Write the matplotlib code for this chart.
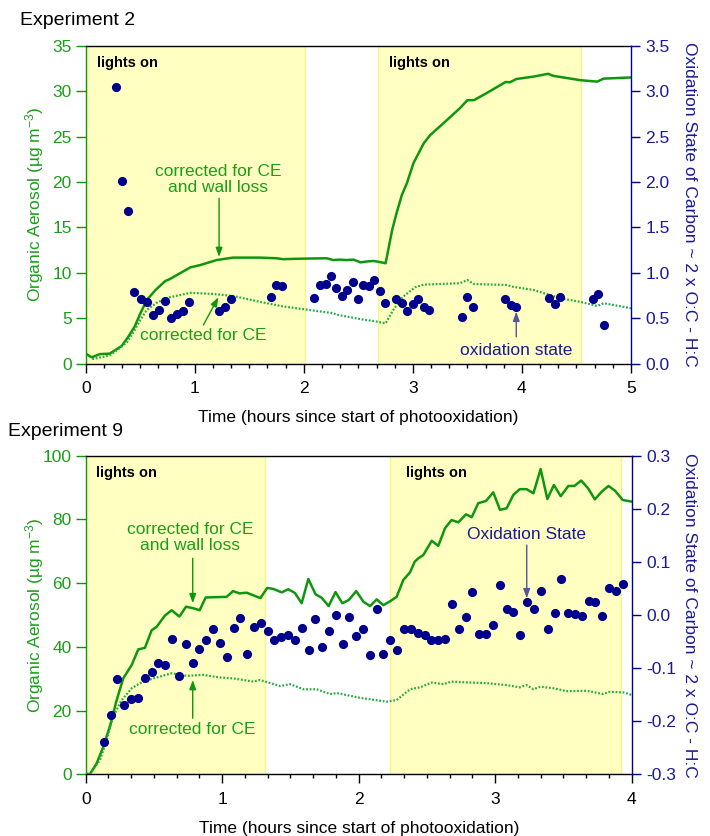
import matplotlib as mpl
import matplotlib.pyplot as plt
from matplotlib.ticker import MultipleLocator, FormatStrFormatter

mpl.rcParams.update({
    "font.family": "Liberation Sans",
    "font.size": 12.5,
    "mathtext.fontset": "custom",
    "mathtext.rm": "Liberation Sans",
    "mathtext.it": "Liberation Sans:italic",
    "mathtext.bf": "Liberation Sans:bold",
    "axes.unicode_minus": False,
    "axes.linewidth": 1.0,
})

GREEN = "#0f960f"
GREEN_TXT = "#1a9e1a"
GREEN_DOT = "#22aa44"
NAVY = "#00008c"
NAVY_TXT = "#1a1a96"
NAVY_ARROW = "#55559a"
LIGHT_FILL = "#ffffc2"
LIGHT_EDGE = "#f4f48e"

# ---- Experiment 2 ----
exp2_lights = [(0.0, 2.01), (2.68, 4.54)]

exp2_t_wall = [0.0, 0.055, 0.13, 0.22, 0.33, 0.39, 0.45, 0.50, 0.56, 0.64, 0.73, 0.77,
               0.865, 0.96, 1.05, 1.20, 1.35, 1.60, 1.75, 1.81, 1.96, 2.21, 2.27, 2.33,
               2.39, 2.455, 2.52, 2.58, 2.64, 2.69, 2.75, 2.81, 2.85, 2.90, 2.945, 3.005,
               3.10, 3.16, 3.28, 3.43, 3.50, 3.56, 3.68, 3.85, 3.89, 3.95, 4.11, 4.24,
               4.29, 4.535, 4.69, 4.75, 5.0]
exp2_oa_wall = [1.1, 0.7, 1.05, 1.1, 1.95, 2.95, 4.1, 5.5, 7.0, 8.1, 9.1, 9.3,
                9.95, 10.6, 10.85, 11.4, 11.67, 11.67, 11.6, 11.5, 11.55, 11.6, 11.4, 11.45,
                11.4, 11.45, 11.15, 11.25, 11.3, 11.2, 11.05, 14.7, 16.55, 18.6, 19.85, 22.06,
                24.26, 25.17, 26.46, 28.1, 29.0, 29.0, 29.8, 31.0, 30.97, 31.33, 31.6, 31.9,
                31.67, 31.2, 31.04, 31.37, 31.5]

exp2_t_ce = [0.06, 0.22, 0.30, 0.38, 0.44, 0.50, 0.56, 0.65, 0.77, 0.96, 1.17, 1.35,
             1.60, 1.81, 2.27, 2.30, 2.52, 2.685, 2.75, 2.82, 2.91, 3.02, 3.10, 3.43,
             3.50, 3.56, 3.86, 3.91, 4.11, 4.35, 4.535, 4.69, 4.75, 5.0]
exp2_oa_ce = [0.5, 0.9, 1.6, 2.4, 3.5, 4.8, 5.9, 6.7, 7.3, 7.8, 7.67, 7.45,
              6.8, 6.3, 5.55, 5.4, 4.9, 4.6, 4.44, 5.9, 7.37, 8.4, 8.7, 8.85,
              9.2, 8.77, 8.66, 8.48, 8.1, 7.2, 6.8, 6.35, 6.65, 6.1]

exp2_t_osc = [0.278, 0.336, 0.39, 0.446, 0.504, 0.56, 0.615, 0.672, 0.725, 0.78, 0.835,
              0.89, 0.945, 1.223, 1.278, 1.333, 1.697, 1.746, 1.80, 2.097, 2.15, 2.20,
              2.25, 2.296, 2.35, 2.397, 2.448, 2.50, 2.547, 2.60, 2.645, 2.70, 2.747,
              2.847, 2.90, 2.95, 3.0, 3.048, 3.10, 3.15, 3.45, 3.50, 3.55, 3.847, 3.90,
              3.95, 4.25, 4.30, 4.35, 4.65, 4.70, 4.75]
exp2_osc = [3.04, 2.01, 1.68, 0.786, 0.712, 0.68, 0.536, 0.59, 0.687, 0.506, 0.543,
            0.58, 0.683, 0.576, 0.62, 0.716, 0.737, 0.863, 0.85, 0.723, 0.866, 0.88,
            0.965, 0.828, 0.745, 0.811, 0.903, 0.712, 0.866, 0.859, 0.921, 0.80, 0.663,
            0.71, 0.665, 0.583, 0.657, 0.712, 0.62, 0.59, 0.517, 0.73, 0.62, 0.712, 0.643,
            0.627, 0.72, 0.657, 0.737, 0.716, 0.764, 0.43]

# ---- Experiment 9 ----
exp9_lights = [(0.0, 1.31), (2.23, 3.92)]

exp9_t_wall = [0.0, 0.03, 0.08, 0.13, 0.18, 0.227, 0.275, 0.337, 0.385, 0.434, 0.483, 0.52,
               0.58, 0.63, 0.686, 0.735, 0.79, 0.835, 0.879, 1.033, 1.079, 1.125, 1.18,
               1.28, 1.33, 1.374, 1.436, 1.484, 1.533, 1.582, 1.631, 1.684, 1.729, 1.78,
               1.83, 1.88, 1.927, 1.982, 2.034, 2.083, 2.132, 2.18, 2.23, 2.278, 2.327,
               2.376, 2.41, 2.437, 2.473, 2.535, 2.583, 2.632, 2.68, 2.73, 2.786, 2.828,
               2.876, 2.933, 2.986, 3.035, 3.084, 3.133, 3.18, 3.23, 3.28, 3.333, 3.382,
               3.43, 3.48, 3.536, 3.58, 3.63, 3.68, 3.73, 3.78, 3.83, 3.878, 3.934, 4.0]
exp9_oa_wall = [0.2, 0.0, 3.4, 8.7, 15.5, 23.3, 30.1, 34.3, 39.2, 39.7, 45.2, 46.3,
                49.8, 51.5, 49.5, 52.6, 52.1, 51.5, 55.5, 55.7, 57.5, 56.8, 57.0,
                55.3, 58.5, 58.2, 57.1, 58.1, 56.9, 53.7, 61.3, 56.5, 55.4, 52.8,
                57.2, 53.7, 54.7, 57.5, 54.2, 52.8, 54.9, 53.1, 54.3, 55.7, 61.0,
                63.4, 66.7, 67.8, 68.8, 73.3, 71.7, 77.2, 79.8, 79.1, 81.6, 80.7,
                85.1, 85.8, 88.5, 83.0, 83.5, 87.7, 89.5, 89.5, 88.2, 95.8, 86.4,
                90.8, 87.3, 90.5, 90.5, 92.2, 89.8, 86.3, 88.7, 90.5, 89.0, 86.1, 85.6]

exp9_t_ce = [0.03, 0.105, 0.154, 0.20, 0.264, 0.337, 0.398, 0.495, 0.63, 0.74, 0.862,
             0.984, 1.081, 1.228, 1.277, 1.423, 1.497, 1.594, 1.692, 1.79, 1.84, 2.01,
             2.205, 2.278, 2.376, 2.45, 2.535, 2.62, 2.68, 2.815, 2.938, 3.084, 3.18,
             3.23, 3.28, 3.33, 3.426, 3.524, 3.67, 3.79, 3.84, 3.94, 4.0]
exp9_oa_ce = [0.0, 4.5, 10.8, 18.0, 23.3, 27.0, 28.6, 30.1, 31.7, 30.9, 31.2,
              30.4, 30.1, 29.1, 29.6, 27.7, 28.3, 26.7, 26.7, 25.2, 25.5, 24.0,
              22.8, 23.3, 26.7, 27.3, 28.8, 28.3, 29.1, 28.8, 28.6, 28.0, 27.3,
              28.0, 26.7, 27.5, 27.0, 26.1, 26.2, 25.2, 25.9, 25.7, 24.9]

exp9_t_osc = [0.132, 0.183, 0.232, 0.283, 0.332, 0.383, 0.432, 0.483, 0.532, 0.583,
              0.635, 0.684, 0.735, 0.784, 0.832, 0.884, 0.933, 0.984, 1.033, 1.084,
              1.133, 1.182, 1.233, 1.284, 1.333, 1.382, 1.433, 1.484, 1.533, 1.582,
              1.634, 1.682, 1.733, 1.782, 1.834, 1.883, 1.931, 1.980, 2.034, 2.083,
              2.132, 2.180, 2.232, 2.283, 2.332, 2.383, 2.432, 2.483, 2.532, 2.583,
              2.634, 2.684, 2.735, 2.784, 2.832, 2.884, 2.933, 2.984, 3.033, 3.084,
              3.133, 3.184, 3.233, 3.284, 3.333, 3.384, 3.435, 3.485, 3.535, 3.585,
              3.634, 3.685, 3.733, 3.785, 3.833, 3.883, 3.934]
exp9_osc = [-0.239, -0.188, -0.120, -0.170, -0.159, -0.156, -0.119, -0.108, -0.091, -0.095,
            -0.045, -0.115, -0.055, -0.091, -0.064, -0.047, -0.027, -0.053, -0.080, -0.025,
            -0.006, -0.073, -0.022, -0.015, -0.031, -0.047, -0.041, -0.037, -0.047, -0.024,
            -0.065, -0.007, -0.060, -0.030, 0.000, -0.055, -0.003, -0.039, -0.027, -0.075,
            0.011, -0.074, -0.047, -0.066, -0.027, -0.027, -0.033, -0.037, -0.047, -0.047,
            -0.045, 0.020, -0.026, -0.004, 0.044, -0.036, -0.036, -0.018, 0.057, 0.011,
            0.006, -0.038, 0.025, 0.011, 0.046, -0.027, 0.003, 0.067, 0.004, 0.001,
            -0.001, 0.026, 0.024, -0.001, 0.050, 0.046, 0.058]

ARROW_G = dict(arrowstyle="-|>,head_length=0.55,head_width=0.2", color=GREEN, lw=1.0,
               mutation_scale=10, shrinkA=0, shrinkB=0)
ARROW_B = dict(ARROW_G, color=NAVY_ARROW)


def panel(ax, lights, label_x, t_wall, oa_wall, t_ce, oa_ce, t_osc, osc,
          xmax, oa_max, oa_step, osc_lim, osc_step):
    axr = ax.twinx()

    for (a, b), lx in zip(lights, label_x):
        ax.axvspan(a, b, facecolor=LIGHT_FILL, edgecolor=LIGHT_EDGE, lw=1, zorder=0)
        ax.text(lx, oa_max * 0.945, "lights on", fontweight="bold", fontsize=10.5,
                va="center", ha="left")

    ax.plot(t_wall, oa_wall, color=GREEN, lw=1.8, zorder=3)
    ax.plot(t_ce, oa_ce, color=GREEN_DOT, lw=1.6, ls=(0, (0.8, 0.8)), zorder=3)
    axr.plot(t_osc, osc, "o", color=NAVY, ms=6.6, mew=0, zorder=4)

    ax.set_xlim(0, xmax)
    ax.set_ylim(0, oa_max)
    axr.set_ylim(*osc_lim)
    ax.xaxis.set_major_locator(MultipleLocator(1))
    ax.xaxis.set_minor_locator(MultipleLocator(1 / 6))
    ax.yaxis.set_major_locator(MultipleLocator(oa_step))
    axr.yaxis.set_major_locator(MultipleLocator(osc_step))
    axr.yaxis.set_major_formatter(FormatStrFormatter("%.1f"))

    ax.tick_params(axis="x", which="major", direction="out", length=6.5, width=1, pad=6)
    ax.tick_params(axis="x", which="minor", direction="out", length=3.2, width=1)
    ax.tick_params(axis="y", direction="out", length=7, width=1, color=GREEN,
                   labelcolor=GREEN_TXT, pad=3)
    axr.tick_params(axis="y", direction="out", length=6.5, width=1, color=NAVY,
                    labelcolor=NAVY_TXT, pad=4)

    ax.spines["left"].set_color(GREEN)
    ax.spines["right"].set_visible(False)
    for s in ("left", "top", "bottom"):
        axr.spines[s].set_visible(False)
    axr.spines["right"].set_color(NAVY)

    ax.set_xlabel("Time (hours since start of photooxidation)", labelpad=10)
    ax.set_ylabel("Organic Aerosol (µg m$^{-3}$)", color=GREEN_TXT)
    ax.yaxis.set_label_coords(-0.072, 0.5)
    axr.set_ylabel("Oxidation State of Carbon ~ 2 x O:C - H:C", color=NAVY_TXT,
                   rotation=270, va="bottom")
    axr.yaxis.set_label_coords(1.093, 0.5)
    return axr


fig = plt.figure(figsize=(7.1, 8.36), dpi=100)

# Experiment 2
ax1 = fig.add_axes([0.1207, 0.5650, 0.7680, 0.3804])
ax1r = panel(ax1, exp2_lights, [0.104, 2.783], exp2_t_wall, exp2_oa_wall,
             exp2_t_ce, exp2_oa_ce, exp2_t_osc, exp2_osc, 5, 35, 5, (0, 3.5), 0.5)
ax1.text(1.216, 20.3, "corrected for CE\nand wall loss", ha="center", va="center",
         color=GREEN_TXT, linespacing=1.05)
ax1.annotate("", xy=(1.223, 11.74), xytext=(1.223, 18.2), arrowprops=ARROW_G)
ax1.text(1.078, 3.05, "corrected for CE", ha="center", va="center", color=GREEN_TXT)
ax1.annotate("", xy=(1.217, 7.31), xytext=(1.079, 4.26), arrowprops=ARROW_G)
ax1r.text(3.948, 0.143, "oxidation state", ha="center", va="center", color=NAVY_TXT)
ax1r.annotate("", xy=(3.948, 0.572), xytext=(3.948, 0.297), arrowprops=ARROW_B)
fig.text(20 / 710, 1 - 25 / 836, "Experiment 2", fontsize=14, va="baseline")

# Experiment 9
ax2 = fig.add_axes([0.1207, 0.0738, 0.7690, 0.3811])
ax2r = panel(ax2, exp9_lights, [0.075, 2.344], exp9_t_wall, exp9_oa_wall,
             exp9_t_ce, exp9_oa_ce, exp9_t_osc, exp9_osc, 4, 100, 20, (-0.3, 0.3), 0.1)
ax2.text(0.764, 74.4, "corrected for CE\nand wall loss", ha="center", va="center",
         color=GREEN_TXT, linespacing=1.05)
ax2.annotate("", xy=(0.784, 53.7), xytext=(0.784, 67.8), arrowprops=ARROW_G)
ax2.text(0.784, 14.1, "corrected for CE", ha="center", va="center", color=GREEN_TXT)
ax2.annotate("", xy=(0.784, 29.6), xytext=(0.784, 17.6), arrowprops=ARROW_G)
ax2r.text(3.231, 0.152, "Oxidation State", ha="center", va="center", color=NAVY_TXT)
ax2r.annotate("", xy=(3.231, 0.0315), xytext=(3.231, 0.1318), arrowprops=ARROW_B)
fig.text(8 / 710, 1 - 436 / 836, "Experiment 9", fontsize=14, va="baseline")

fig.savefig("out.png", dpi=100)
